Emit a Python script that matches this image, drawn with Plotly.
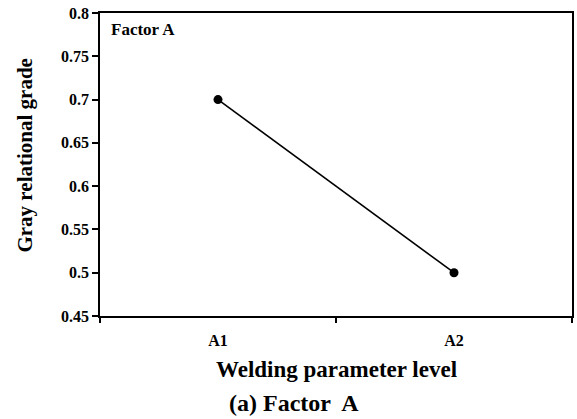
import plotly.graph_objects as go

levels = ["A1", "A2"]
grade = [0.70, 0.50]
y_ticks = [0.45, 0.5, 0.55, 0.6, 0.65, 0.7, 0.75, 0.8]
y_ticktext = ["0.45", "0.5", "0.55", "0.6", "0.65", "0.7", "0.75", "0.8"]

FONT = "Liberation Serif, Times New Roman, serif"

fig = go.Figure()
fig.add_trace(go.Scatter(
    x=levels, y=grade, mode="lines+markers",
    line=dict(color="black", width=1.6),
    marker=dict(color="black", size=9),
    showlegend=False,
))

fig.update_layout(
    width=577, height=419,
    margin=dict(l=100, r=3, t=13, b=103),
    paper_bgcolor="white", plot_bgcolor="white",
    font=dict(family=FONT, color="black"),
)
fig.update_xaxes(
    type="category", range=[-0.5, 1.5],
    showline=True, linecolor="black", linewidth=1.8, mirror=True,
    ticks="outside", tickson="boundaries", ticklen=5, tickwidth=1.5, tickcolor="black",
    tickfont=dict(family=FONT, size=16, weight="bold"),
    ticklabelstandoff=9,
    showgrid=False, zeroline=False,
)
fig.update_yaxes(
    range=[0.45, 0.8], tickvals=y_ticks, ticktext=y_ticktext,
    showline=True, linecolor="black", linewidth=1.8, mirror=True,
    ticks="outside", ticklen=6, tickwidth=1.5, tickcolor="black",
    tickfont=dict(family=FONT, size=16, weight="bold"),
    showgrid=False, zeroline=False,
)

fig.add_annotation(text="Factor A", xref="paper", yref="paper", x=0.02, y=0.985,
                   xanchor="left", yanchor="top", showarrow=False,
                   font=dict(family=FONT, size=17, weight="bold"))
fig.add_annotation(text="Welding parameter level", xref="paper", yref="paper",
                   x=0.5, y=-0.178, xanchor="center", yanchor="middle", showarrow=False,
                   font=dict(family=FONT, size=23, weight="bold"))
fig.add_annotation(text="(a) Factor  A", xref="paper", yref="paper",
                   x=0.411, y=-0.287, xanchor="center", yanchor="middle", showarrow=False,
                   font=dict(family=FONT, size=24, weight="bold"))
fig.add_annotation(text="Gray relational grade", xref="paper", yref="paper",
                   x=-0.158, y=0.531, xanchor="center", yanchor="middle", showarrow=False,
                   textangle=-90,
                   font=dict(family=FONT, size=21, weight="bold"))

fig.write_html("out.html")
